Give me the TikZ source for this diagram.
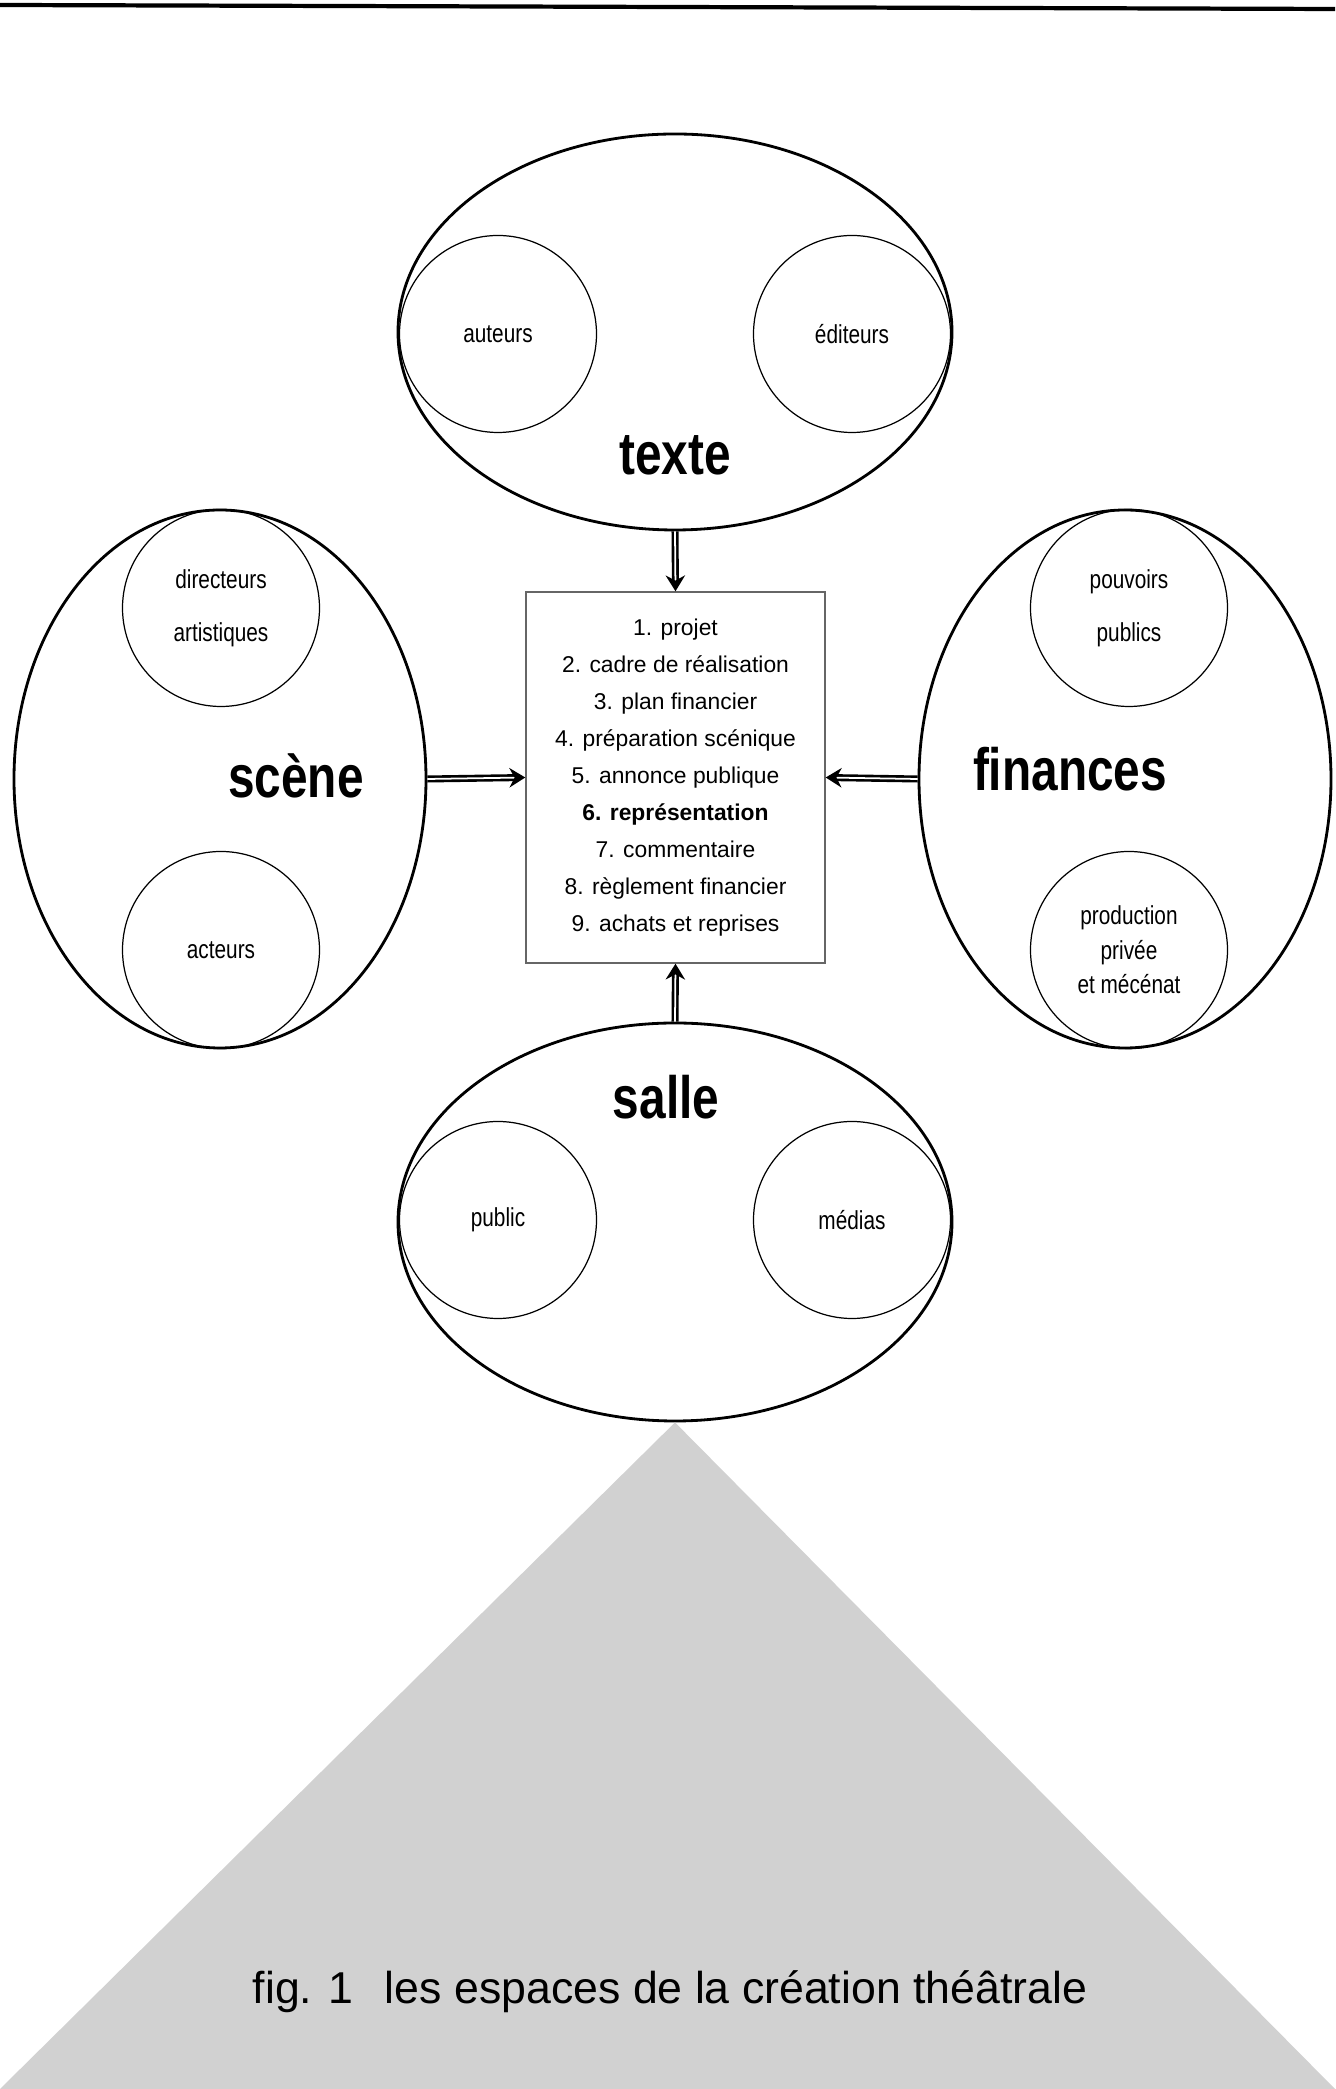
\documentclass[tikz,border=0pt]{standalone}
\usepackage{fontspec}
\setmainfont{Liberation Sans}
\newfontfamily\condfont[FakeStretch=0.8]{Liberation Sans}
\usetikzlibrary{shapes.geometric, arrows.meta, positioning}

\begin{document}
\begin{tikzpicture}[
  every node/.style={align=center},
  %% ─── styles ────────────────────────────────────────────────
  espace/.style={
    draw=black, ellipse, line width=0.8pt, inner sep=0pt
  },
  pole/.style={
    draw=black, circle, line width=0.35pt, minimum size=1.97cm, inner sep=0pt,
    font=\condfont\fontsize{7.4}{15}\selectfont
  },
  titre/.style={anchor=base, font=\condfont\bfseries\fontsize{17}{20}\selectfont},
  etapes/.style={
    draw=black!60, line width=0.4pt, minimum width=2.99cm, minimum height=3.71cm,
    font=\fontsize{6.5}{10.5}\selectfont
  },
  fleche/.style={-{Stealth[length=4.5pt, width=5.5pt]}, double, double distance=0.5pt, line width=0.75pt}
]
  \useasboundingbox (0,0) rectangle (13.35,20.89);
  \draw[line width=1.2pt] (0,20.84) -- (13.35,20.80);

  %% ─── 1. texte (haut) ────────────────────────────────────────
  \node[espace, minimum width=5.54cm, minimum height=3.96cm] (texte) at (6.75,17.57) {};
  \node[pole] (auteurs) at (4.98,17.55) {auteurs};
  \node[pole] (editeurs) at (8.52,17.55) {éditeurs};
  \node[titre] (texteT) at (6.75,16.14) {texte};

  %% ─── 2. scène (gauche) ──────────────────────────────────────
  \node[espace, minimum width=4.12cm, minimum height=5.38cm] (scene) at (2.20,13.10) {};
  \node[pole] (directeurs) at (2.21,14.81) {directeurs\\artistiques};
  \node[pole] (acteurs) at (2.21,11.39) {acteurs};
  \node[titre] (sceneT) at (2.96,12.91) {scène};

  %% ─── 3. finances (droite) ───────────────────────────────────
  \node[espace, minimum width=4.12cm, minimum height=5.38cm] (finances) at (11.25,13.10) {};
  \node[pole] (pouvoirs) at (11.29,14.81) {pouvoirs\\publics};
  \node[pole, font=\condfont\fontsize{7.4}{9.8}\selectfont] (production) at (11.29,11.39) {production\\privée\\et mécénat};
  \node[titre] (financesT) at (10.70,12.98) {finances};

  %% ─── 4. salle (bas) ─────────────────────────────────────────
  \node[espace, minimum width=5.54cm, minimum height=3.98cm] (salle) at (6.75,8.67) {};
  \node[pole] (public) at (4.98,8.69) {public};
  \node[pole] (medias) at (8.52,8.69) {médias};
  \node[titre] (salleT) at (6.66,9.70) {salle};

  %% ─── 5. étapes (centre) ─────────────────────────────────────
  \node[etapes] (plan) at (6.755,13.115) {1. projet\\2. cadre de réalisation\\3. plan financier\\4. préparation scénique\\5. annonce publique\\\textbf{6. représentation}\\7. commentaire\\8. règlement financier\\9. achats et reprises};

  \draw[fleche] (texte.south) -- (plan.north);
  \draw[fleche] (scene.east) -- (plan.west);
  \draw[fleche] (finances.west) -- (plan.east);
  \draw[fleche] (salle.north) -- (plan.south);

  %% ─── 6. triangle et légende ─────────────────────────────────
  \fill[black!18] (salle.south) -- (0,0) -- (13.35,0) -- cycle;
  \node[anchor=base, font=\fontsize{12.7}{15}\selectfont] (legende) at (6.70,0.86) {fig. 1\hspace{0.7em}les espaces de la création théâtrale};
\end{tikzpicture}
\end{document}
